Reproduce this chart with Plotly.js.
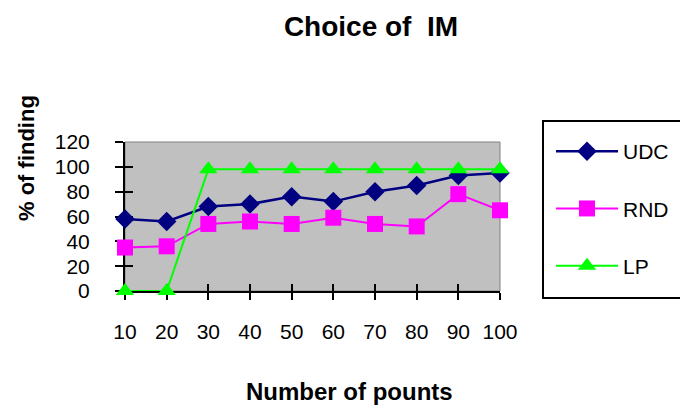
<!DOCTYPE html>
<html>
<head>
<meta charset="utf-8">
<script src="https://cdn.plot.ly/plotly-3.0.1.min.js"></script>
<style>html,body{margin:0;padding:0;background:#fff;}#chart{width:680px;height:405px;}</style>
</head>
<body>
<div id="chart"></div>
<script>
var points = [10, 20, 30, 40, 50, 60, 70, 80, 90, 100];
var udc = [58, 56, 68, 70, 76, 72, 80, 85, 93, 95];
var rnd = [35, 36, 54, 56, 54, 59, 54, 52, 78, 65];
var lp  = [0, 0, 98, 98, 98, 98, 98, 98, 98, 98];
var seriesNames = ['UDC', 'RND', 'LP'];
var yTicks = [0, 20, 40, 60, 80, 100, 120];

var F = '"Liberation Sans", Arial, sans-serif';

var traces = [
  {x: points, y: udc, name: seriesNames[0], type: 'scatter', mode: 'lines+markers',
   line: {color: '#000080', width: 2.5}, marker: {symbol: 'diamond', size: 15, color: '#000080'},
   cliponaxis: false, legendgroup: 'a'},
  {x: points, y: rnd, name: seriesNames[1], type: 'scatter', mode: 'lines+markers',
   line: {color: '#FF00FF', width: 2}, marker: {symbol: 'square', size: 16, color: '#FF00FF'},
   cliponaxis: false, legendgroup: 'b'},
  {x: points, y: lp, name: seriesNames[2], type: 'scatter', mode: 'lines+markers',
   xaxis: 'x2', yaxis: 'y2',
   line: {color: '#00FF00', width: 2}, marker: {symbol: 'triangle-up', size: 16, color: '#00FF00'},
   cliponaxis: false, legendgroup: 'c'}
];

var axCommon = {
  showgrid: false, zeroline: false, tickcolor: '#000', tickwidth: 2
};

// plot area in px: x 125..500, y 142..291
function px2x(px) { return (px - 125) / 375; }
function px2y(py) { return (291 - py) / 149; }

var layout = {
  width: 680, height: 405,
  margin: {l: 125, r: 180, t: 142, b: 114, autoexpand: false},
  paper_bgcolor: '#fff',
  plot_bgcolor: '#C0C0C0',
  font: {family: F, color: '#000'},
  showlegend: true,
  title: {text: 'Choice of &nbsp;IM', font: {family: F, size: 28, color: '#000', weight: 'bold'},
          x: 371 / 680, xanchor: 'center', xref: 'container', y: 1 - 26 / 405, yanchor: 'middle', yref: 'container'},
  xaxis: Object.assign({}, axCommon, {
    range: [10, 100], tickvals: points, ticktext: points.map(String),
    ticks: 'outside', ticklen: 7, showline: true, linecolor: '#000', linewidth: 2,
    tickfont: {family: F, size: 21, color: '#000'}, ticklabelstandoff: 14,
    layer: 'below traces', fixedrange: true, automargin: false
  }),
  yaxis: Object.assign({}, axCommon, {
    range: [0, 120], tickvals: yTicks, ticktext: yTicks.map(String),
    ticks: 'outside', ticklen: 8, showline: true, linecolor: '#000', linewidth: 2,
    tickfont: {family: F, size: 21, color: '#000'}, ticklabelstandoff: 21,
    layer: 'below traces', fixedrange: true, automargin: false
  }),
  xaxis2: Object.assign({}, axCommon, {
    overlaying: 'x', range: [10, 100], tickvals: points, side: 'bottom',
    ticks: 'inside', ticklen: 7, showticklabels: false, showline: false,
    layer: 'below traces', fixedrange: true
  }),
  yaxis2: Object.assign({}, axCommon, {
    overlaying: 'y', range: [0, 120], tickvals: yTicks, side: 'left',
    ticks: 'inside', ticklen: 8, showticklabels: false, showline: false,
    layer: 'below traces', fixedrange: true
  }),
  shapes: [
    {type: 'rect', xref: 'paper', yref: 'paper', x0: 0, x1: 1, y0: 0, y1: 1,
     line: {color: '#808080', width: 1}, layer: 'below'},
    {type: 'rect', xref: 'paper', yref: 'paper', x0: px2x(543), x1: px2x(700), y0: px2y(298), y1: px2y(121),
     line: {color: '#000', width: 2}, fillcolor: 'rgba(0,0,0,0)', layer: 'above'}
  ],
  legend: {
    x: px2x(551), xanchor: 'left', y: px2y(131), yanchor: 'top',
    borderwidth: 0, bgcolor: 'rgba(0,0,0,0)',
    font: {family: F, size: 21, color: '#000'},
    tracegroupgap: 27, itemwidth: 62,
    traceorder: 'grouped'
  },
  annotations: [
    {text: '% of finding', xref: 'paper', yref: 'paper', x: px2x(26), y: px2y(158),
     xanchor: 'center', yanchor: 'middle', textangle: -90, showarrow: false,
     font: {family: F, size: 22, color: '#000', weight: 'bold'}},
    {text: 'Number of pounts', xref: 'paper', yref: 'paper', x: px2x(349), y: px2y(391),
     xanchor: 'center', yanchor: 'middle', showarrow: false,
     font: {family: F, size: 24, color: '#000', weight: 'bold'}}
  ]
};

Plotly.newPlot('chart', traces, layout, {displayModeBar: false, staticPlot: true});
</script>
</body>
</html>
